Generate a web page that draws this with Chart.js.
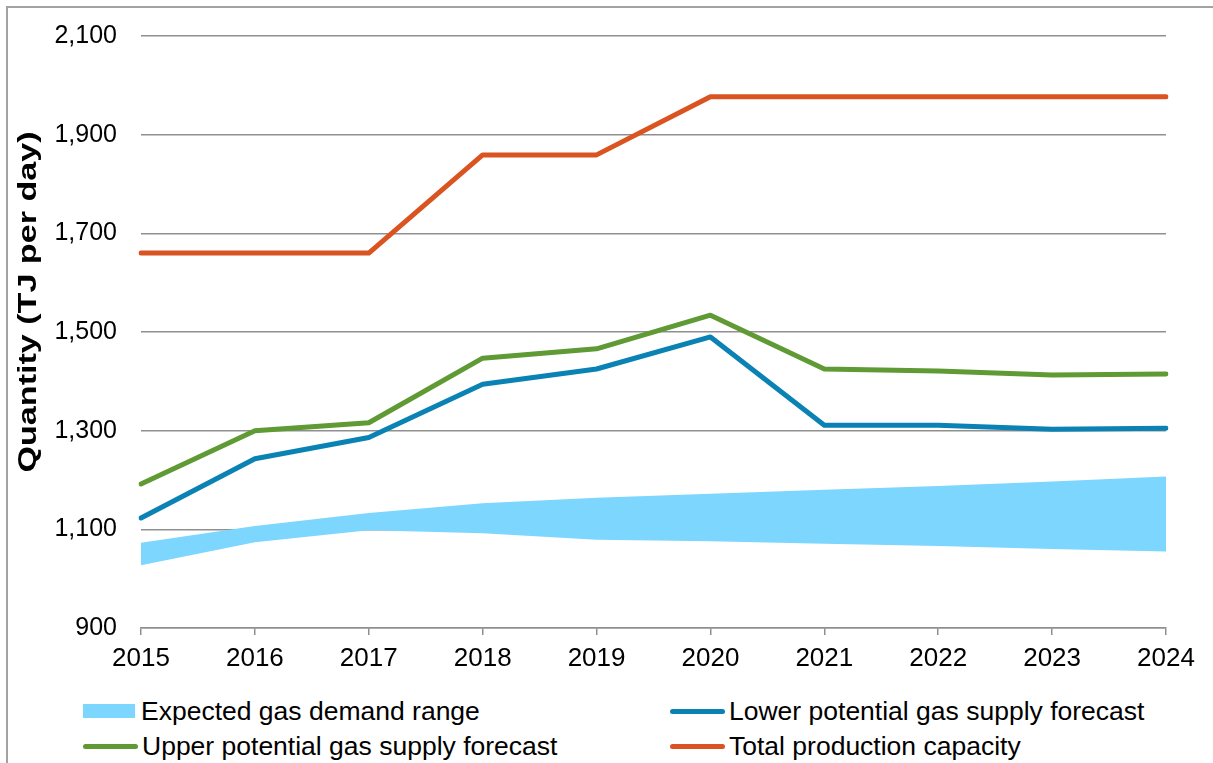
<!DOCTYPE html>
<html>
<head>
<meta charset="utf-8">
<script src="https://cdn.jsdelivr.net/npm/chart.js@4.4.1/dist/chart.umd.min.js"></script>
<style>
  html, body { margin: 0; padding: 0; background: #fff; }
  #wrap { position: relative; width: 1213px; height: 763px; overflow: hidden; font-family: "Liberation Sans", Arial, sans-serif; }
  #frame { position: absolute; left: 6px; top: 6px; width: 1300px; height: 900px; border-left: 2px solid #a3a3a3; border-top: 2px solid #a3a3a3; }
  #cv { position: absolute; left: 0; top: -3px; }
  .lg { position: absolute; font-size: 26.5px; color: #000; line-height: 30px; white-space: nowrap; }
  .sw { position: absolute; }
</style>
</head>
<body>
<div id="wrap">
  <div id="frame"></div>
  <canvas id="cv" width="1213" height="690"></canvas>
  <div id="legend"></div>
</div>
<script>
var years = ['2015', '2016', '2017', '2018', '2019', '2020', '2021', '2022', '2023', '2024'];
var demandLow = [1027, 1074, 1098, 1092, 1079, 1076, 1071, 1066, 1060, 1055];
var demandHigh = [1073, 1107, 1133, 1153, 1164, 1172, 1180, 1188, 1197, 1207];
var lowerSupply = [1123, 1243, 1286, 1394, 1425, 1490, 1311, 1311, 1303, 1305];
var upperSupply = [1192, 1300, 1316, 1447, 1466, 1534, 1425, 1421, 1413, 1415];
var capacity = [1660, 1660, 1660, 1859, 1859, 1977, 1977, 1977, 1977, 1977];
var yTicks = [900, 1100, 1300, 1500, 1700, 1900, 2100];

var FONT = '"Liberation Sans", Arial, sans-serif';
var bandColor = '#7dd6fd';
var blue = '#0a82b4';
var green = '#5f9a34';
var orange = '#da5421';

function lineSet(label, data, color) {
  return {
    label: label, data: data, borderColor: color, backgroundColor: color,
    borderWidth: 5, pointRadius: 0, tension: 0, fill: false,
    borderCapStyle: 'round', borderJoinStyle: 'round', order: 1
  };
}

// y axis title, drawn by hand so it sits (and stretches) like the original
var yTitle = {
  id: 'yTitle',
  afterDraw: function (chart) {
    var c = chart.ctx;
    var txt = 'Quantity (TJ per day)';
    c.save();
    c.font = 'bold 25px ' + FONT;
    var w = c.measureText(txt).width;
    c.translate(29, 305);
    c.rotate(-Math.PI / 2);
    c.scale(341 / w, 1);
    c.fillStyle = '#000';
    c.textAlign = 'center';
    c.textBaseline = 'middle';
    c.fillText(txt, 0, 0);
    c.restore();
  }
};

var ctx = document.getElementById('cv').getContext('2d');
var chart = new Chart(ctx, {
  type: 'line',
  data: {
    labels: years,
    datasets: [
      lineSet('Lower potential gas supply forecast', lowerSupply, blue),
      lineSet('Upper potential gas supply forecast', upperSupply, green),
      lineSet('Total production capacity', capacity, orange),
      {
        label: 'demand low', data: demandLow, borderWidth: 0, pointRadius: 0,
        borderColor: 'rgba(0,0,0,0)', backgroundColor: 'rgba(0,0,0,0)', fill: false, order: 10
      },
      {
        label: 'Expected gas demand range', data: demandHigh, borderWidth: 0, pointRadius: 0,
        borderColor: bandColor, backgroundColor: bandColor, fill: '-1', order: 9
      }
    ]
  },
  options: {
    responsive: false,
    animation: false,
    layout: { padding: { top: 32, right: 47, left: 0, bottom: 0 } },
    plugins: { legend: { display: false }, tooltip: { enabled: false } },
    scales: {
      x: {
        offset: false,
        grid: { drawOnChartArea: false, drawTicks: true, tickLength: 7, color: '#8f8f8f', lineWidth: 1.5 },
        border: { display: true, color: '#8f8f8f', width: 1.5 },
        ticks: { font: { family: FONT, size: 26 }, color: '#000', padding: 8, maxRotation: 0 },
        afterFit: function (s) { s.height = 690 - 631; }
      },
      y: {
        min: 900, max: 2100,
        afterBuildTicks: function (s) { s.ticks = yTicks.map(function (v) { return { value: v }; }); },
        grid: { color: '#8f8f8f', lineWidth: 1.5, drawTicks: false },
        border: { display: false },
        ticks: { font: { family: FONT, size: 25 }, color: '#000', padding: 24 },
        afterFit: function (s) { s.width = 141; }
      }
    }
  },
  plugins: [yTitle]
});

// legend in two columns, as in the original
var legendItems = [
  { text: 'Expected gas demand range', color: bandColor, box: true, x: 83, y: 711 },
  { text: 'Lower potential gas supply forecast', color: blue, box: false, x: 670, y: 711 },
  { text: 'Upper potential gas supply forecast', color: green, box: false, x: 83, y: 746 },
  { text: 'Total production capacity', color: orange, box: false, x: 670, y: 746 }
];
var lg = document.getElementById('legend');
legendItems.forEach(function (it) {
  var sw = document.createElement('div');
  sw.className = 'sw';
  if (it.box) {
    sw.style.cssText = 'left:' + it.x + 'px;top:' + (it.y - 7) + 'px;width:52px;height:14px;background:' + it.color;
  } else {
    sw.style.cssText = 'left:' + it.x + 'px;top:' + (it.y - 2.5) + 'px;width:55px;height:5px;border-radius:3px;background:' + it.color;
  }
  lg.appendChild(sw);
  var t = document.createElement('div');
  t.className = 'lg';
  t.textContent = it.text;
  t.style.left = (it.x + (it.box ? 58 : 59)) + 'px';
  t.style.top = (it.y - 15) + 'px';
  lg.appendChild(t);
});
</script>
</body>
</html>
